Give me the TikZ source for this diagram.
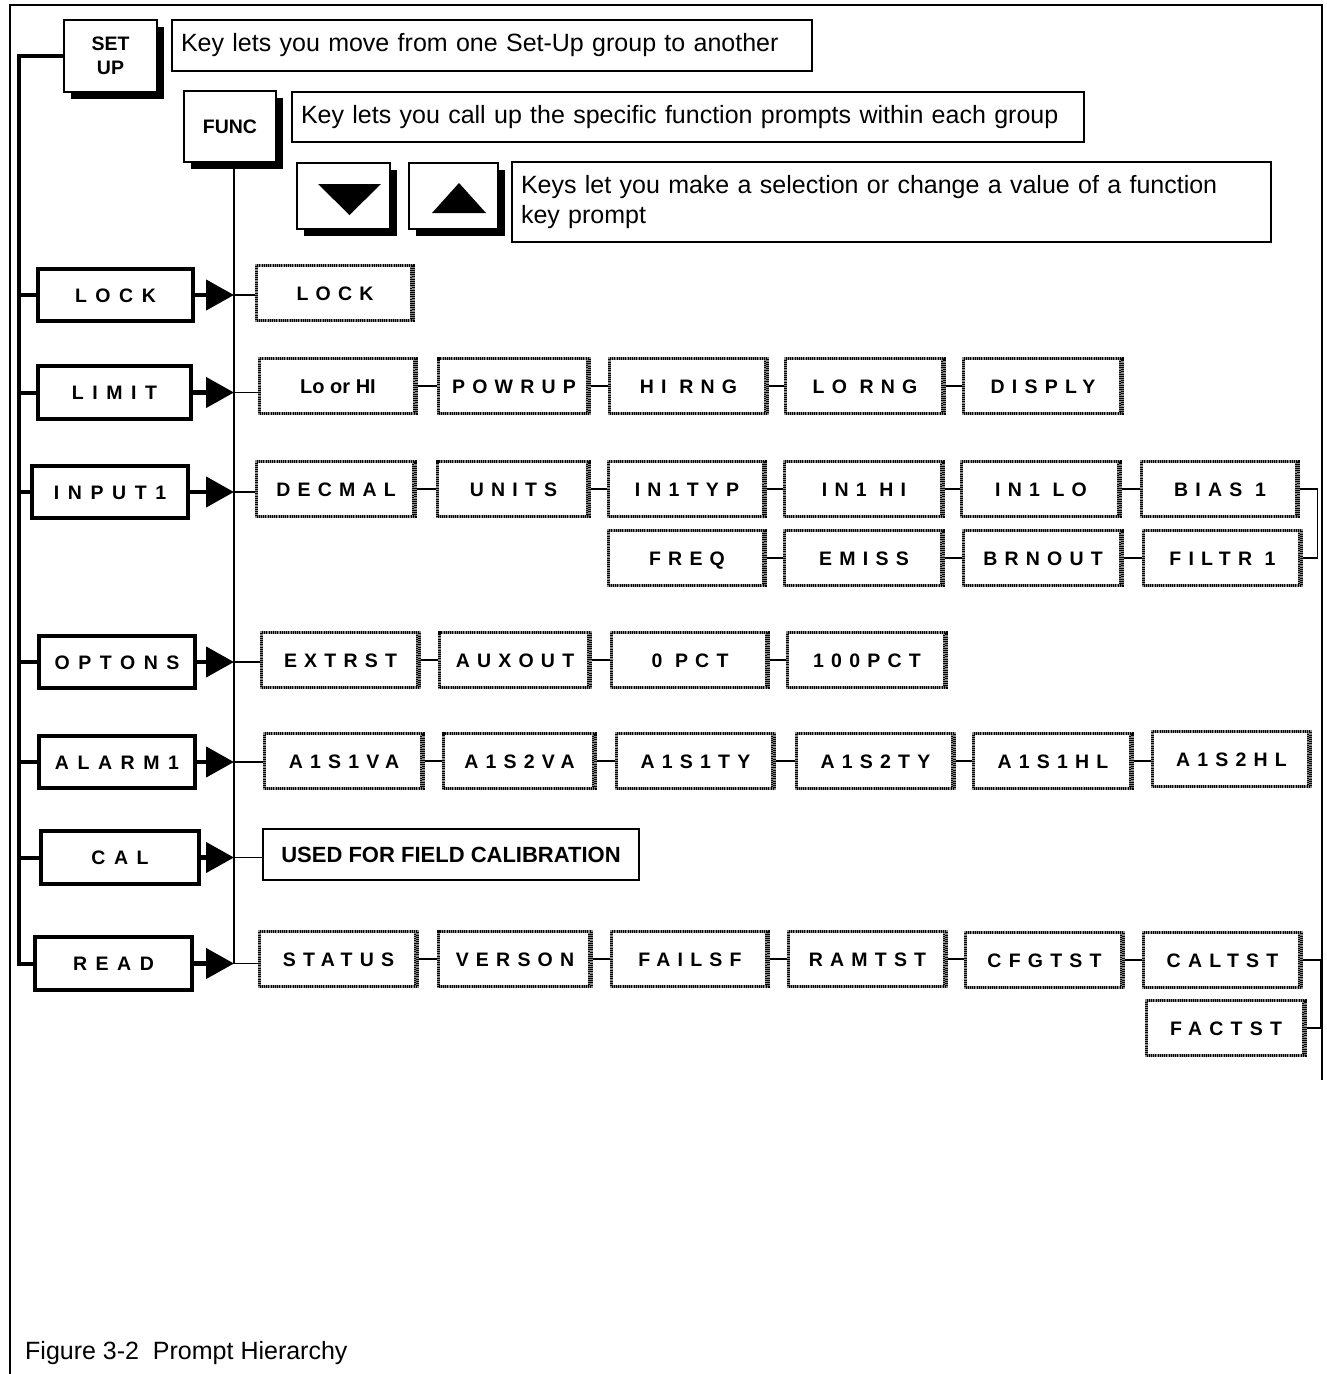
\documentclass[tikz,border=0pt]{standalone}
\usepackage{fontspec}
\setmainfont{Liberation Sans}
\newfontfamily\spfont[LetterSpace=44]{Liberation Sans}
\newfontfamily\spfontp[LetterSpace=37]{Liberation Sans}
\usetikzlibrary{arrows.meta,shadows}
\tikzset{
  frame/.style={line width=1.6pt},
  keycap/.style={draw, line width=1.3pt, fill=white, inner sep=0pt, align=center,
    font=\fontsize{19.5}{24}\selectfont\bfseries,
    drop shadow={shadow xshift=7pt, shadow yshift=-7pt, fill=black, opacity=1}},
  desc/.style={draw, line width=1.2pt, inner xsep=9pt, inner ysep=0pt, align=left,
    font=\fontsize{25}{30}\selectfont},
  grpkey/.style={draw, line width=4.5pt, inner sep=0pt, text height=14pt, text depth=0pt,
    font=\fontsize{19.5}{22}\spfont\bfseries},
  prompt/.style={draw=black!45, line width=3.6pt, inner sep=0pt, text height=14pt, text depth=0pt,
    font=\fontsize{19.5}{22}\spfontp\bfseries,
    postaction={draw=black, line width=3.6pt, dash pattern=on 1pt off 1.2pt},
    path picture={\draw[black!45, line width=7pt]
      (path picture bounding box.north east) -- (path picture bounding box.south east);
      \draw[black, line width=7pt, dash pattern=on 1pt off 1.2pt]
      (path picture bounding box.north east) -- (path picture bounding box.south east);
      \draw[black, line width=2.4pt, dash pattern=on 1pt off 1.2pt]
      (path picture bounding box.south west) -- (path picture bounding box.south east);}},
  solidbox/.style={draw, line width=1.3pt, inner sep=0pt, font=\fontsize{22}{26}\selectfont\bfseries},
  bus/.style={line width=4pt},
  grpline/.style={line width=4.5pt, -{Triangle[length=28pt,width=30pt]}},
  conn/.style={line width=1.3pt},
}
\newcommand\mkprompt[6]{\node[prompt, minimum width={#4-#2-3}, minimum height={#5-#3-3}] (#1) at ({(#2+#4)/2},{(#3+#5)/2}) {#6};}
\newcommand\mkgroup[6]{\node[grpkey, minimum width={#4-#2-4}, minimum height={#5-#3-4}] (#1) at ({(#2+#4)/2},{(#3+#5)/2}) {#6};}
\newcommand\mkkey[6]{\node[keycap, minimum width={#4-#2}, minimum height={#5-#3}] (#1) at ({(#2+#4)/2},{(#3+#5)/2}) {#6};}
\newcommand\mkdesc[6]{\node[desc, text width={#4-#2-18}, minimum height={#5-#3}] (#1) at ({(#2+#4)/2},{(#3+#5)/2}) {#6};}
\begin{document}
\begin{tikzpicture}[x=1pt,y=-1pt]
\useasboundingbox (0,0) rectangle (1326,1374);
% outer frame
\draw[frame] (10,1374) -- (10,5) -- (1322,5) -- (1322,1080);

% keys and descriptions
\mkkey{setup}{64}{20}{157}{92}{SET\\UP}
\mkkey{func}{184}{91}{276}{162}{FUNC}
\mkkey{down}{297}{163}{390}{229}{}
\mkkey{up}{409}{163}{498}{229}{}
\fill (318,184) -- (381,184) -- (349.5,215) -- cycle;
\fill (459,183) -- (486,213) -- (432,213) -- cycle;
\mkdesc{d1}{172}{20}{812}{71}{Key lets you move from one Set-Up group to another}
\mkdesc{d2}{292}{92}{1084}{142}{Key lets you call up the specific function prompts within each group}
\mkdesc{d3}{512}{162}{1271}{242}{Keys let you make a selection or change a value of a function\\key prompt}

\coordinate (busx) at (19,0);
\coordinate (fl) at (234,0);

% group keys
\mkgroup{lock}{36}{267}{195}{323}{LOCK}
\mkgroup{limit}{36}{364}{193}{421}{LIMIT}
\mkgroup{input}{30}{464}{190}{520}{INPUT1}
\mkgroup{optons}{37}{634}{197}{690}{OPTONS}
\mkgroup{alarm}{37}{734}{197}{790}{ALARM1}
\mkgroup{cal}{39}{829}{201}{886}{CAL}
\mkgroup{read}{33}{935}{194}{992}{READ}

% bus
\draw[bus] (setup.west) -- (setup.west -| busx) -- (busx |- read.west) -- (read.west);
\foreach \g in {lock,limit,input,optons,alarm,cal}
  \draw[bus] (busx |- \g.west) -- (\g.west);
\foreach \g in {lock,limit,input,optons,alarm,cal,read}
  \draw[grpline] (\g.east) -- (\g.east -| fl);

% prompts
\mkprompt{plock}{255}{264}{415}{322}{LOCK}
\node[prompt, font=\fontsize{20}{22}\selectfont\bfseries, minimum width=157, minimum height=55] (lohi) at (338,386) {Lo or HI};
\mkprompt{powrup}{437}{357}{591}{415}{POWRUP}
\mkprompt{hirng}{608}{357}{769}{415}{HI RNG}
\mkprompt{lorng}{784}{357}{946}{415}{LO RNG}
\mkprompt{disply}{962}{357}{1124}{415}{DISPLY}

\mkprompt{decmal}{255}{460}{417}{518}{DECMAL}
\mkprompt{units}{436}{460}{591}{518}{UNITS}
\mkprompt{intyp}{607}{460}{767}{518}{IN1TYP}
\mkprompt{inhi}{783}{460}{945}{518}{IN1 HI}
\mkprompt{inlo}{960}{460}{1122}{518}{IN1 LO}
\mkprompt{bias}{1140}{460}{1300}{518}{BIAS 1}
\mkprompt{freq}{607}{529}{767}{587}{FREQ}
\mkprompt{emiss}{783}{529}{945}{587}{EMISS}
\mkprompt{brnout}{962}{529}{1124}{587}{BRNOUT}
\mkprompt{filtr}{1142}{529}{1303}{587}{FILTR 1}

\mkprompt{extrst}{260}{631}{421}{689}{EXTRST}
\mkprompt{auxout}{438}{631}{592}{689}{AUXOUT}
\mkprompt{opct}{610}{631}{770}{689}{0 PCT}
\mkprompt{hpct}{786}{631}{948}{689}{100PCT}

\mkprompt{aa}{263}{732}{425}{790}{A1S1VA}
\mkprompt{ab}{442}{732}{597}{790}{A1S2VA}
\mkprompt{ac}{615}{732}{776}{790}{A1S1TY}
\mkprompt{ad}{795}{732}{956}{790}{A1S2TY}
\mkprompt{ae}{972}{732}{1134}{790}{A1S1HL}
\mkprompt{af}{1151}{730}{1312}{788}{A1S2HL}

\node[solidbox, minimum width=376, minimum height=51] (calbox) at (451,854.5) {USED FOR FIELD CALIBRATION};

\mkprompt{status}{258}{930}{419}{988}{STATUS}
\mkprompt{verson}{437}{930}{593}{988}{VERSON}
\mkprompt{failsf}{610}{930}{770}{988}{FAILSF}
\mkprompt{ramtst}{787}{930}{948}{988}{RAMTST}
\mkprompt{cfgtst}{964}{931}{1125}{989}{CFGTST}
\mkprompt{caltst}{1142}{931}{1303}{989}{CALTST}
\mkprompt{factst}{1145}{999}{1307}{1057}{FACTST}

% func line
\draw[conn] (func.south -| fl) -- (fl |- read.east) -- (read.east -| status.west);
\foreach \g/\p in {lock/plock,limit/lohi,input/decmal,optons/extrst,alarm/aa,cal/calbox}
  \draw[conn] (\g.east -| fl) -- (\g.east -| \p.west);

% chains
\foreach \a/\b in {lohi/powrup,powrup/hirng,hirng/lorng,lorng/disply,
  decmal/units,units/intyp,intyp/inhi,inhi/inlo,inlo/bias,
  freq/emiss,emiss/brnout,brnout/filtr,
  extrst/auxout,auxout/opct,opct/hpct,
  aa/ab,ab/ac,ac/ad,ad/ae,ae/af,
  status/verson,verson/failsf,failsf/ramtst,ramtst/cfgtst,cfgtst/caltst}
  \draw[conn] (\a.east) -- (\a.east -| \b.west);
\draw[conn] (bias.east) -- ++(17,0) |- (filtr.east);
\draw[conn] (caltst.east) -- ++(17,0) |- (factst.east);

% caption
\node[anchor=base west, inner sep=0pt, font=\fontsize{25}{30}\selectfont] (caption) at (25,1359) {Figure 3-2\ \ Prompt Hierarchy};
\end{tikzpicture}
\end{document}
